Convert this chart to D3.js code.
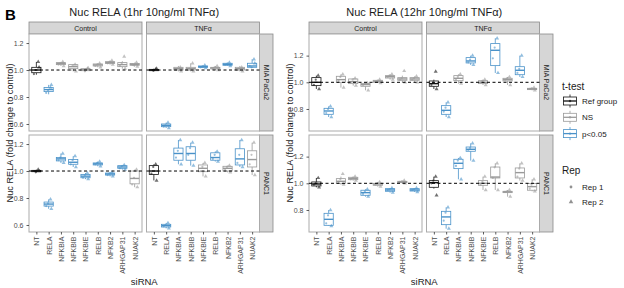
<!DOCTYPE html>
<html><head><meta charset="utf-8">
<script src="https://cdn.jsdelivr.net/npm/d3@7"></script>
<style>body{margin:0;background:#fff}svg{display:block;font-family:"Liberation Sans",Arial,sans-serif}</style>
</head><body><svg id="c" width="624" height="288"></svg>
<script>
const siRNA = ["NT","RELA","NFKBIA","NFKBIB","NFKBIE","RELB","NFKB2","ARHGAP31","NUAK2"];
const treatments = ["Control","TNFα"];
const cellLines = ["MIA PaCa2","PANC1"];
const yTicks1 = [0.6,0.8,1.0,1.2];
const yTicks12 = [0.8,1.0,1.2];

// box stats [low whisker, q1, median, q3, high whisker]
const h1_mia_ctrl = [[0.965,0.98,1.0,1.02,1.06],[0.82,0.84,0.855,0.87,0.89],[1.03,1.04,1.048,1.055,1.06],[0.99,1.01,1.025,1.04,1.045],[0.99,0.995,1.003,1.01,1.015],[1.02,1.03,1.038,1.045,1.05],[1.04,1.048,1.055,1.062,1.07],[1.01,1.025,1.04,1.055,1.065],[1.025,1.035,1.042,1.048,1.055]];
const h1_mia_tnf = [[0.99,0.995,1.0,1.005,1.01],[0.57,0.58,0.59,0.60,0.61],[0.99,1.0,1.01,1.02,1.03],[0.99,1.0,1.01,1.02,1.05],[1.015,1.02,1.025,1.03,1.035],[1.0,1.008,1.015,1.02,1.03],[1.03,1.035,1.042,1.05,1.055],[0.99,1.0,1.01,1.02,1.03],[1.015,1.02,1.03,1.05,1.08]];
const h1_panc_ctrl = [[0.99,0.995,1.0,1.005,1.01],[0.72,0.74,0.755,0.77,0.79],[1.06,1.075,1.09,1.10,1.13],[1.03,1.05,1.065,1.085,1.11],[0.94,0.95,0.962,0.975,0.985],[1.035,1.045,1.053,1.06,1.07],[0.96,0.97,0.978,0.985,0.99],[1.01,1.02,1.03,1.04,1.045],[0.88,0.905,0.945,1.0,1.01]];
const h1_panc_tnf = [[0.93,0.975,1.0,1.04,1.05],[0.575,0.585,0.595,0.605,0.615],[1.05,1.08,1.13,1.17,1.23],[1.04,1.08,1.13,1.18,1.21],[0.96,0.995,1.02,1.045,1.06],[1.07,1.08,1.10,1.135,1.145],[0.99,1.0,1.02,1.035,1.04],[1.03,1.045,1.09,1.165,1.23],[0.97,1.03,1.085,1.15,1.21]];
const h12_mia_ctrl = [[0.95,0.975,1.0,1.035,1.05],[0.74,0.76,0.785,0.805,0.82],[0.96,1.0,1.02,1.045,1.06],[0.975,0.99,1.005,1.025,1.03],[0.94,0.97,0.983,0.992,0.995],[0.995,1.0,1.008,1.015,1.02],[1.02,1.032,1.042,1.05,1.06],[1.0,1.015,1.025,1.035,1.05],[1.0,1.015,1.025,1.035,1.045]];
const h12_mia_tnf = [[0.95,0.97,0.99,1.01,1.02],[0.74,0.76,0.79,0.825,0.85],[0.99,1.012,1.03,1.05,1.06],[1.13,1.145,1.16,1.185,1.20],[0.98,0.99,1.0,1.012,1.02],[1.07,1.125,1.24,1.29,1.33],[0.98,1.01,1.02,1.03,1.04],[1.04,1.057,1.09,1.117,1.20],[0.94,0.945,0.95,0.955,0.96]];
const h12_panc_ctrl = [[0.97,0.98,0.995,1.01,1.04],[0.68,0.685,0.73,0.775,0.80],[0.99,1.0,1.015,1.035,1.05],[1.02,1.027,1.035,1.045,1.05],[0.90,0.91,0.93,0.948,0.955],[0.975,0.985,0.995,1.0,1.01],[0.93,0.94,0.95,0.96,0.965],[1.0,1.005,1.01,1.015,1.02],[0.935,0.942,0.95,0.96,0.965]];
const h12_panc_tnf = [[0.96,0.97,1.005,1.02,1.05],[0.66,0.69,0.748,0.79,0.82],[1.03,1.11,1.15,1.18,1.19],[1.17,1.24,1.255,1.272,1.30],[0.95,0.985,1.0,1.02,1.05],[0.95,1.04,1.047,1.122,1.15],[0.90,0.93,0.935,0.94,0.95],[1.02,1.04,1.08,1.115,1.15],[0.94,0.948,0.975,0.998,1.03]];

// t-test group: R = Ref group, N = NS, S = p<0.05
const h1_mia_ctrl_sig  = ["R","S","N","N","N","N","N","N","N"];
const h1_mia_tnf_sig   = ["R","S","N","N","S","N","S","N","S"];
const h1_panc_ctrl_sig = ["R","S","S","S","S","S","S","S","N"];
const h1_panc_tnf_sig  = ["R","S","S","S","N","S","N","S","N"];
const h12_mia_ctrl_sig  = ["R","S","N","N","N","N","N","N","N"];
const h12_mia_tnf_sig   = ["R","S","N","S","N","S","N","S","N"];
const h12_panc_ctrl_sig = ["R","S","N","N","S","N","S","N","S"];
const h12_panc_tnf_sig  = ["R","S","S","S","N","N","N","N","N"];

// individual points (alternating Rep 1, Rep 2)
const h1_mia_ctrl_pts = [[0.97,1.06,1.0,1.02],[0.83,0.87,0.85,0.89],[1.04,1.06,1.05,1.03],[1.0,1.04,1.03,0.99],[1.0,1.01,0.99,1.015],[1.03,1.05,1.04,1.02],[1.05,1.07,1.06,1.04],[1.03,1.10,1.05,1.01],[1.04,1.055,1.035,1.025]];
const h1_mia_tnf_pts = [[1.0,1.005,0.995,1.01],[0.58,0.61,0.59,0.57],[1.0,1.02,1.01,0.99],[1.0,1.05,1.01,0.99],[1.02,1.035,1.025,1.015],[1.01,1.03,1.02,1.0],[1.04,1.055,1.045,1.03],[1.0,1.02,1.01,0.99],[1.03,1.08,1.02,1.05]];
const h1_panc_ctrl_pts = [[1.0,1.01,0.99,1.0],[0.74,0.79,0.76,0.72],[1.08,1.13,1.10,1.06],[1.05,1.11,1.08,1.03],[0.95,0.985,0.97,0.94],[1.05,1.07,1.06,1.035],[0.97,0.99,0.98,0.96],[1.02,1.045,1.035,1.01],[0.90,1.01,0.95,0.88]];
const h1_panc_tnf_pts = [[0.98,1.05,1.03,0.93],[0.59,0.615,0.60,0.575],[1.10,1.23,1.15,1.05],[1.12,1.21,1.17,1.04],[1.0,1.06,1.03,0.96],[1.09,1.145,1.12,1.07],[1.01,1.04,1.03,0.99],[1.06,1.23,1.12,1.03],[1.05,1.21,1.12,0.97]];
const h12_mia_ctrl_pts = [[0.98,1.05,1.02,0.95],[0.77,0.82,0.80,0.74],[1.01,1.06,1.04,0.96],[1.0,1.03,1.02,0.975],[0.98,0.995,0.99,0.94],[1.005,1.02,1.01,0.995],[1.04,1.06,1.05,1.02],[1.02,1.085,1.03,1.0],[1.02,1.045,1.03,1.0]];
const h12_mia_tnf_pts = [[0.98,1.08,1.0,0.95],[0.78,0.85,0.81,0.74],[1.02,1.06,1.04,0.99],[1.15,1.20,1.17,1.13],[1.0,1.02,1.01,0.98],[1.18,1.33,1.26,1.07],[1.02,1.04,1.03,0.98],[1.07,1.20,1.10,1.04],[0.95,0.96,0.955,0.94]];
const h12_panc_ctrl_pts = [[0.99,1.04,1.0,0.97],[0.70,0.80,0.76,0.68],[1.01,1.07,1.03,0.99],[1.03,1.05,1.04,1.02],[0.92,0.955,0.94,0.90],[0.99,1.01,1.0,0.975],[0.95,0.965,0.955,0.93],[1.01,1.02,1.015,1.0],[0.95,0.965,0.955,0.935]];
const h12_panc_tnf_pts = [[1.0,1.05,1.02,0.91],[0.72,0.82,0.78,0.66],[1.13,1.19,1.17,1.03],[1.25,1.30,1.265,1.17],[0.99,1.05,1.01,0.95],[1.04,1.15,1.12,0.95],[0.935,0.95,0.94,0.90],[1.05,1.15,1.11,1.02],[0.96,1.03,0.99,0.94]];

const charts = [
  {title:"Nuc RELA (1hr 10ng/ml TNFα)", left:29, domain:[0.548,1.267], ticks:yTicks1,
   box:[[h1_mia_ctrl,h1_mia_tnf],[h1_panc_ctrl,h1_panc_tnf]],
   sig:[[h1_mia_ctrl_sig,h1_mia_tnf_sig],[h1_panc_ctrl_sig,h1_panc_tnf_sig]],
   pts:[[h1_mia_ctrl_pts,h1_mia_tnf_pts],[h1_panc_ctrl_pts,h1_panc_tnf_pts]]},
  {title:"Nuc RELA (12hr 10ng/ml TNFα)", left:309, domain:[0.635,1.362], ticks:yTicks12,
   box:[[h12_mia_ctrl,h12_mia_tnf],[h12_panc_ctrl,h12_panc_tnf]],
   sig:[[h12_mia_ctrl_sig,h12_mia_tnf_sig],[h12_panc_ctrl_sig,h12_panc_tnf_sig]],
   pts:[[h12_mia_ctrl_pts,h12_mia_tnf_pts],[h12_panc_ctrl_pts,h12_panc_tnf_pts]]}
];

const colors = {R:"#111111", N:"#9a9a9a", S:"#4a92c9"};
const panelW = 113, gapX = 4.5, panelTop = 34, panelH = 97, gapY = 4, stripH = 12, stripW = 13.5;
const jit = [-0.2, 0.15, -0.05, 0.22, 0.0];

const svg = d3.select("#c");
svg.append("text").attr("x",5).attr("y",20).attr("font-size",15).attr("font-weight","bold").attr("fill","#000").text("B");

const tri = d3.symbol().type(d3.symbolTriangle).size(7);

charts.forEach(ch => {
  const L = ch.left;
  const totalW = 2*panelW + gapX;
  svg.append("text").attr("x", L + totalW/2).attr("y", 15.5).attr("text-anchor","middle")
    .attr("font-size", 11).attr("fill","#1a1a1a").text(ch.title);
  // y title
  svg.append("text").attr("transform",`translate(${L-16},${panelTop+panelH+gapY/2}) rotate(-90)`)
    .attr("text-anchor","middle").attr("font-size",9.2).attr("fill","#1a1a1a")
    .text("Nuc RELA (fold change to control)");
  // x title
  svg.append("text").attr("x", L + totalW/2).attr("y", 285).attr("text-anchor","middle")
    .attr("font-size",9.5).attr("fill","#1a1a1a").text("siRNA");

  const x = d3.scalePoint().domain(siRNA).range([0,panelW]).padding(0.6);
  const bw = x.step()*0.75;

  treatments.forEach((t,j) => {
    const px = L + j*(panelW+gapX);
    svg.append("rect").attr("x",px).attr("y",panelTop-stripH).attr("width",panelW).attr("height",stripH)
      .attr("fill","#d6d6d6").attr("stroke","#8a8a8a").attr("stroke-width",0.8);
    svg.append("text").attr("x",px+panelW/2).attr("y",panelTop-3.5).attr("text-anchor","middle")
      .attr("font-size",7).attr("fill","#1a1a1a").text(t);
  });

  cellLines.forEach((cl,i) => {
    const py = panelTop + i*(panelH+gapY);
    const y = d3.scaleLinear().domain(ch.domain).range([py+panelH, py]);
    const sx = L + totalW;
    svg.append("rect").attr("x",sx).attr("y",py).attr("width",stripW).attr("height",panelH)
      .attr("fill","#d6d6d6").attr("stroke","#8a8a8a").attr("stroke-width",0.8);
    svg.append("text").attr("transform",`translate(${sx+stripW/2-2.5},${py+panelH/2}) rotate(90)`)
      .attr("text-anchor","middle").attr("font-size",7).attr("fill","#1a1a1a").text(cl);

    treatments.forEach((t,j) => {
      const px = L + j*(panelW+gapX);
      const g = svg.append("g").attr("transform",`translate(${px},0)`);
      g.append("rect").attr("x",0).attr("y",py).attr("width",panelW).attr("height",panelH)
        .attr("fill","#fff").attr("stroke","#ababab").attr("stroke-width",1);
      const stats = ch.box[i][j], sig = ch.sig[i][j], pts = ch.pts[i][j];
      const bx = g.selectAll("g.box").data(stats).join("g").attr("class","box")
        .attr("transform",(d,k)=>`translate(${x(siRNA[k])},0)`)
        .attr("stroke",(d,k)=>colors[sig[k]]);
      bx.append("line").attr("y1",d=>y(d[0])).attr("y2",d=>y(d[1])).attr("stroke-width",0.8);
      bx.append("line").attr("y1",d=>y(d[3])).attr("y2",d=>y(d[4])).attr("stroke-width",0.8);
      bx.append("rect").attr("x",-bw/2).attr("width",bw).attr("y",d=>y(d[3]))
        .attr("height",d=>Math.max(0.5,y(d[1])-y(d[3]))).attr("fill","#fff").attr("stroke-width",0.8);
      bx.append("line").attr("x1",-bw/2).attr("x2",bw/2).attr("y1",d=>y(d[2])).attr("y2",d=>y(d[2])).attr("stroke-width",1.4);
      // points
      pts.forEach((arr,k) => {
        arr.forEach((v,m) => {
          const cx = x(siRNA[k]) + jit[m%jit.length]*x.step();
          const c = colors[sig[k]];
          if (m%2===0) {
            g.append("circle").attr("cx",cx).attr("cy",y(v)).attr("r",1.1).attr("fill",c).attr("opacity",0.6);
          } else {
            g.append("path").attr("d",tri).attr("transform",`translate(${cx},${y(v)})`).attr("fill",c).attr("opacity",0.6);
          }
        });
      });
      // dashed reference line
      g.append("line").attr("x1",0).attr("x2",panelW).attr("y1",y(1)).attr("y2",y(1))
        .attr("stroke","#000").attr("stroke-width",1).attr("stroke-dasharray","3,2.5");

      if (j===0) {
        const ax = g.append("g").call(d3.axisLeft(y).tickValues(ch.ticks).tickSize(2.5).tickPadding(3).tickFormat(d3.format(".1f")));
        ax.select(".domain").remove();
        ax.selectAll("line").attr("stroke","#333").attr("stroke-width",0.8);
        ax.selectAll("text").attr("font-size",7).attr("fill","#4d4d4d").attr("font-family",null);
      }
      if (i===1) {
        const ax = g.append("g").attr("transform",`translate(0,${py+panelH})`)
          .call(d3.axisBottom(x).tickSize(2.5).tickPadding(2));
        ax.select(".domain").remove();
        ax.selectAll("line").attr("stroke","#333").attr("stroke-width",0.8);
        ax.selectAll("text").attr("font-size",7).attr("fill","#4d4d4d").attr("font-family",null)
          .attr("transform","rotate(-90)").attr("text-anchor","end").attr("x",-4.5).attr("y",0).attr("dy","0.35em");
      }
    });
  });
});

// Legends
const lg = svg.append("g");
lg.append("text").attr("x",562).attr("y",90).attr("font-size",10).attr("fill","#1a1a1a").text("t-test");
const legItems = [["Ref group","R"],["NS","N"],["p<0.05","S"]];
legItems.forEach((it,k) => {
  const cy = 101 + k*16.3, cx = 570, c = colors[it[1]];
  const kg = lg.append("g").attr("stroke",c);
  kg.append("line").attr("x1",cx).attr("x2",cx).attr("y1",cy-6.5).attr("y2",cy+6.5).attr("stroke-width",0.8);
  kg.append("rect").attr("x",cx-6.5).attr("y",cy-4).attr("width",13).attr("height",8).attr("fill","#fff").attr("stroke-width",0.8);
  kg.append("line").attr("x1",cx-6.5).attr("x2",cx+6.5).attr("y1",cy).attr("y2",cy).attr("stroke-width",1.3);
  lg.append("circle").attr("cx",cx).attr("cy",cy).attr("r",1.2).attr("fill",c).attr("opacity",0.7);
  lg.append("text").attr("x",582).attr("y",cy+3).attr("font-size",8).attr("fill","#1a1a1a").text(it[0]);
});
lg.append("text").attr("x",562).attr("y",174).attr("font-size",10).attr("fill","#1a1a1a").text("Rep");
lg.append("circle").attr("cx",571).attr("cy",187).attr("r",1.4).attr("fill","#777").attr("opacity",0.8);
lg.append("path").attr("d",d3.symbol().type(d3.symbolTriangle).size(9)).attr("transform","translate(571,202)").attr("fill","#777").attr("opacity",0.8);
lg.append("text").attr("x",582).attr("y",190).attr("font-size",8).attr("fill","#1a1a1a").text("Rep 1");
lg.append("text").attr("x",582).attr("y",205).attr("font-size",8).attr("fill","#1a1a1a").text("Rep 2");
</script></body></html>
